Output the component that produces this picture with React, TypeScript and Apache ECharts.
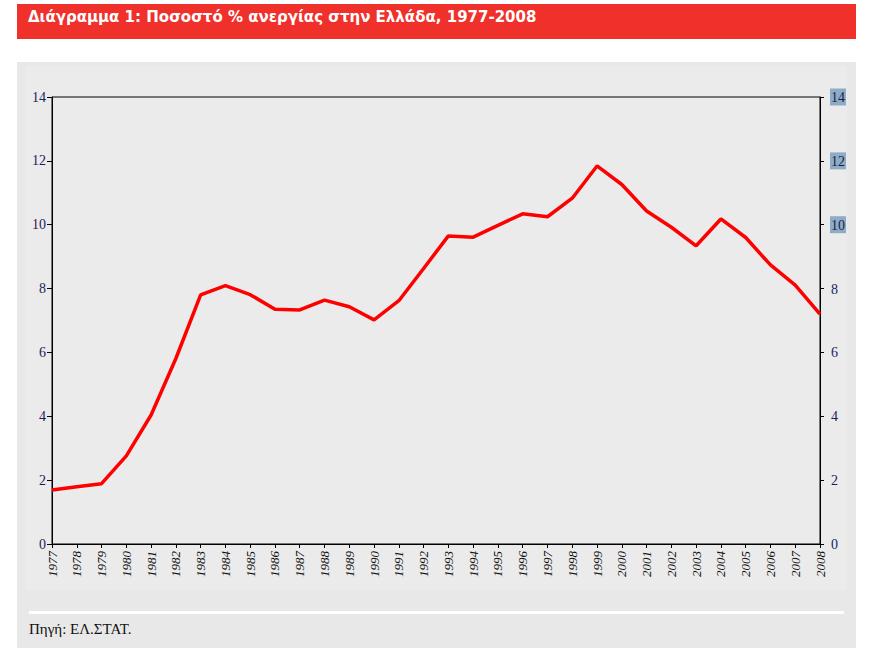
import React, { useEffect, useRef } from "react";
import * as echarts from "echarts";

const years: string[] = [
  "1977", "1978", "1979", "1980", "1981", "1982", "1983", "1984", "1985", "1986",
  "1987", "1988", "1989", "1990", "1991", "1992", "1993", "1994", "1995", "1996",
  "1997", "1998", "1999", "2000", "2001", "2002", "2003", "2004", "2005", "2006",
  "2007", "2008",
];

const unemployment: number[] = [
  1.69, 1.79, 1.89, 2.76, 4.04, 5.81, 7.8, 8.09, 7.81, 7.35,
  7.33, 7.64, 7.43, 7.02, 7.62, 8.63, 9.65, 9.61, 9.98, 10.34,
  10.25, 10.83, 11.84, 11.26, 10.43, 9.92, 9.34, 10.18, 9.6, 8.74,
  8.11, 7.2,
];

const titleText = "Διάγραμμα 1: Ποσοστό % ανεργίας στην Ελλάδα, 1977-2008";
const sourceText = "Πηγή: ΕΛ.ΣΤΑΤ.";
const highlightedRightTicks: number[] = [10, 12, 14];

export default function App() {
  const ref = useRef<HTMLDivElement>(null);

  useEffect(() => {
    if (!ref.current) return;
    const chart = echarts.init(ref.current, undefined, { renderer: "svg" });
    const serif = "Liberation Serif";
    chart.setOption({
      animation: false,
      backgroundColor: "#ffffff",
      graphic: [
        { type: "rect", z: -10, shape: { x: 17, y: 4, width: 839, height: 35 }, style: { fill: "#f0302a" } },
        {
          type: "text", z: 10, x: 28, y: 17,
          style: {
            text: titleText, fill: "#ffffff", font: "bold 15px 'DejaVu Sans'",
            verticalAlign: "middle",
          },
        },
        { type: "rect", z: -10, shape: { x: 17, y: 62, width: 839, height: 586 }, style: { fill: "#e8e8e8" } },
        { type: "rect", z: -9, shape: { x: 25, y: 66, width: 822, height: 524 }, style: { fill: "#ebebeb" } },
        { type: "rect", z: -8, shape: { x: 29, y: 611, width: 815, height: 3 }, style: { fill: "#ffffff" } },
        {
          type: "text", z: 10, x: 29, y: 629,
          style: { text: sourceText, fill: "#111111", font: `15px '${serif}'`, verticalAlign: "middle" },
        },
      ],
      grid: {
        left: 52, right: 50, top: 97, bottom: 115,
        show: true, borderColor: "#000000", borderWidth: 1, backgroundColor: "transparent",
      },
      xAxis: {
        type: "category",
        data: years,
        boundaryGap: false,
        axisLine: { lineStyle: { color: "#000000", width: 1 } },
        axisTick: { show: true, length: 4, lineStyle: { color: "#000000" } },
        axisLabel: {
          rotate: 90, interval: 0, margin: 7,
          fontFamily: serif, fontStyle: "italic", fontSize: 13, color: "#111111",
        },
        splitLine: { show: false },
      },
      yAxis: [
        {
          type: "value", min: 0, max: 14, interval: 2, position: "left",
          axisLine: { show: true, lineStyle: { color: "#000000" } },
          axisTick: { show: true, length: 5, lineStyle: { color: "#000000" } },
          axisLabel: { fontFamily: serif, fontSize: 14, color: "#1c1c5c", margin: 6 },
          splitLine: { show: false },
        },
        {
          type: "value", min: 0, max: 14, interval: 2, position: "right",
          axisLine: { show: true, lineStyle: { color: "#000000" } },
          axisTick: { show: true, length: 4, lineStyle: { color: "#000000" } },
          axisLabel: {
            margin: 10,
            formatter: (v: number) =>
              highlightedRightTicks.includes(v) ? `{hl|${v}}` : `{n|${v}}`,
            rich: {
              hl: {
                fontFamily: serif, fontSize: 14, color: "#1c1c4c",
                backgroundColor: "#8eacc6", padding: [2, 1, 1, 1],
              },
              n: { fontFamily: serif, fontSize: 14, color: "#1c1c5c", padding: [2, 1, 1, 1] },
            },
          },
          splitLine: { show: false },
        },
      ],
      series: [
        {
          type: "line",
          data: unemployment,
          yAxisIndex: 0,
          symbol: "none",
          lineStyle: { color: "#ff0000", width: 3.5 },
          z: 5,
        },
      ],
    });
    return () => chart.dispose();
  }, []);

  return (
    <div
      ref={ref}
      style={{ position: "fixed", left: 0, top: 0, width: 870, height: 659 }}
    />
  );
}
